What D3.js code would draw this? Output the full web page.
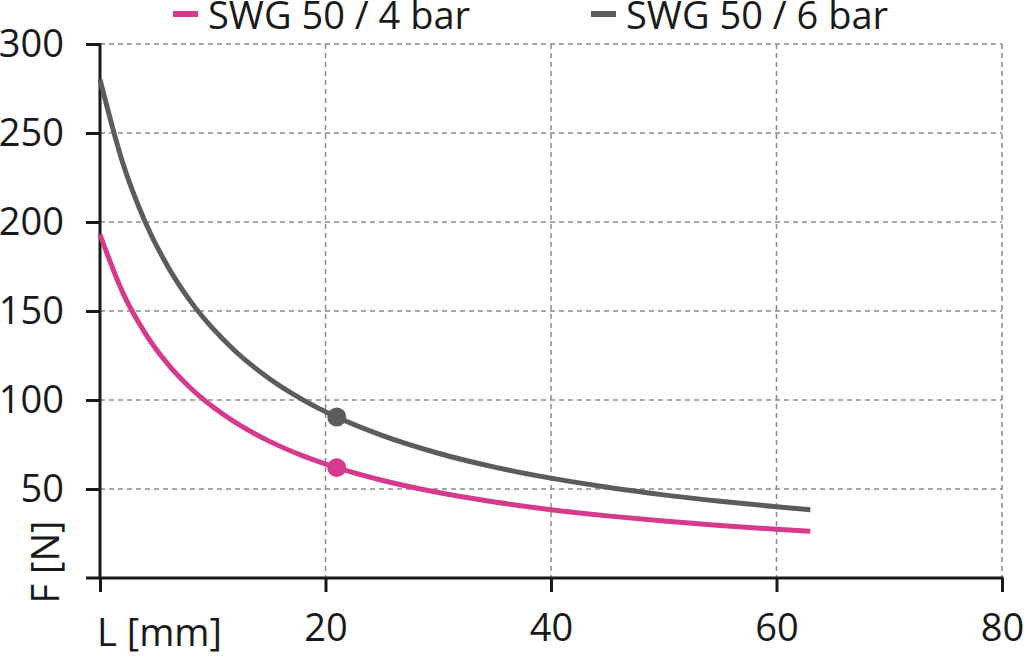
<!DOCTYPE html>
<html><head><meta charset="utf-8">
<script src="https://cdn.jsdelivr.net/npm/d3@7"></script>
<style>body{margin:0;background:#fff}svg{display:block}</style>
</head><body><svg id="c" width="1024" height="656"></svg>
<script>
const lengths = [0, 2, 4, 6, 8, 10, 12, 15, 18, 21, 25, 30, 35, 40, 45, 50, 55, 60, 63];
const force4bar = [193, 160.6, 137.6, 120.3, 106.9, 96.2, 87.4, 76.9, 68.6, 62, 54.9, 48.0, 42.7, 38.4, 34.9, 32.0, 29.5, 27.4, 26.3];
const force6bar = [280, 233.6, 200.2, 175.2, 155.7, 140.2, 127.4, 112.1, 100.1, 90.4, 80.1, 70.1, 62.3, 56.1, 51.0, 46.7, 43.1, 40.0, 38.4];
const seriesNames = ["SWG 50 / 4 bar", "SWG 50 / 6 bar"];
const markerL = 21;
const xTicks = [20, 40, 60, 80];
const yTicks = [50, 100, 150, 200, 250, 300];

const colors = ["#d63a8c", "#5c5c5c"];
const font = "'Open Sans', sans-serif";
const fs = 38;
const svg = d3.select("#c");
const x = d3.scaleLinear().domain([0, 80]).range([100, 1002]);
const y = d3.scaleLinear().domain([0, 300]).range([578, 44]);

// grid
const g = svg.append("g");
g.selectAll(".gx").data(xTicks).join("line")
  .attr("x1", d => x(d)).attr("x2", d => x(d)).attr("y1", y(300)).attr("y2", y(0))
  .attr("stroke", "#8a8a8a").attr("stroke-width", 1.5).attr("stroke-dasharray", "5,4");
g.selectAll(".gy").data(yTicks).join("line")
  .attr("x1", x(0)).attr("x2", x(80)).attr("y1", d => y(d)).attr("y2", d => y(d))
  .attr("stroke", "#8a8a8a").attr("stroke-width", 1.5).attr("stroke-dasharray", "5,4");

// axes
const yAxis = svg.append("g").attr("transform", `translate(${x(0)},0)`)
  .call(d3.axisLeft(y).tickValues(yTicks).tickSize(14).tickPadding(22).tickFormat(d3.format("d")));
const xAxis = svg.append("g").attr("transform", `translate(0,${y(0)})`)
  .call(d3.axisBottom(x).tickValues([0, ...xTicks]).tickSize(14).tickPadding(22).tickFormat(d => d === 0 ? "" : d));
[yAxis, xAxis].forEach(a => {
  a.select(".domain").remove();
  a.selectAll(".tick line").attr("stroke", "#1a1a1a").attr("stroke-width", 3);
  a.selectAll("text").attr("font-family", font).attr("font-size", fs).attr("fill", "#1a1a1a");
});
svg.append("line").attr("x1", x(0)).attr("x2", x(0)).attr("y1", y(300) - 1).attr("y2", y(0) + 1.5)
  .attr("stroke", "#1a1a1a").attr("stroke-width", 3);
svg.append("line").attr("x1", x(0) - 14).attr("x2", x(80) + 1.5).attr("y1", y(0)).attr("y2", y(0))
  .attr("stroke", "#1a1a1a").attr("stroke-width", 3);

// axis titles
svg.append("text").attr("x", 97).attr("y", 646).attr("font-family", font).attr("font-size", fs)
  .attr("fill", "#1a1a1a").text("L [mm]");
svg.append("text").attr("transform", "translate(59,562) rotate(-90)").attr("text-anchor", "middle")
  .attr("font-family", font).attr("font-size", fs).attr("fill", "#1a1a1a").text("F [N]");

// lines
const data = [force4bar, force6bar];
const line = d3.line().x((d, i) => x(lengths[i])).y(d => y(d)).curve(d3.curveMonotoneX);
data.forEach((s, k) => {
  svg.append("path").datum(s).attr("d", line).attr("fill", "none")
    .attr("stroke", colors[k]).attr("stroke-width", 5);
  const idx = lengths.indexOf(markerL);
  svg.append("circle").attr("cx", x(markerL)).attr("cy", y(s[idx])).attr("r", 9.5).attr("fill", colors[k]);
});

// legend
const legX = [173, 591];
seriesNames.forEach((n, k) => {
  svg.append("line").attr("x1", legX[k]).attr("x2", legX[k] + 25).attr("y1", 14).attr("y2", 14)
    .attr("stroke", colors[k]).attr("stroke-width", 6);
  svg.append("text").attr("x", legX[k] + 35).attr("y", 29).attr("font-family", font).attr("font-size", fs)
    .attr("fill", "#1a1a1a").text(n);
});
</script></body></html>
